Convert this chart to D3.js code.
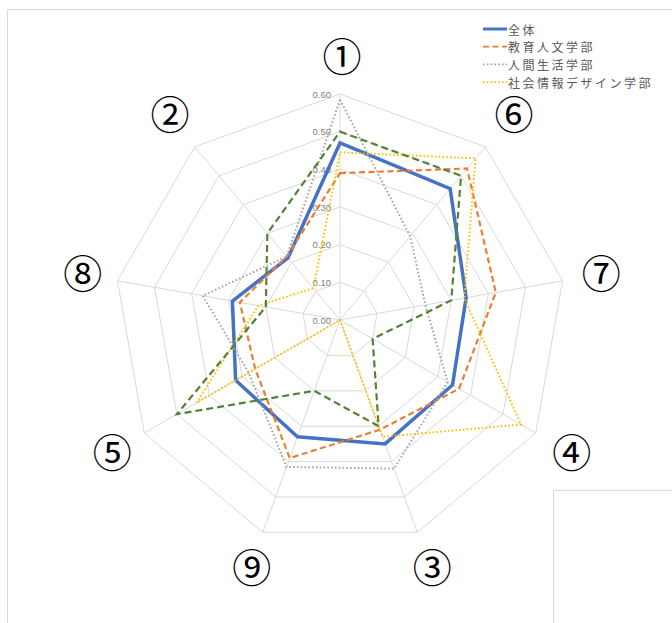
<!DOCTYPE html>
<html>
<head>
<meta charset="utf-8">
<script src="https://cdn.jsdelivr.net/npm/d3@7"></script>
<style>
  body { margin: 0; background: #fff; }
  svg { display: block; font-family: "Noto Sans CJK JP", "Noto Sans", sans-serif; }
</style>
</head>
<body>
<div id="viz"></div>
<script>
// axis order clockwise from the top
const categories = ['①', '⑥', '⑦', '④', '③', '⑨', '⑤', '⑧', '②'];
const tickValues = [0, 0.1, 0.2, 0.3, 0.4, 0.5, 0.6];

const seriesNames = ['全体', '教育人文学部', '人間生活学部', '社会情報デザイン学部', ''];
const zentai = [0.47, 0.455, 0.34, 0.345, 0.35, 0.33, 0.32, 0.29, 0.215];
const kyouiku = [0.39, 0.525, 0.42, 0.365, 0.31, 0.39, 0.26, 0.27, 0.22];
const ningen = [0.585, 0.29, 0.23, 0.33, 0.42, 0.415, 0.28, 0.37, 0.22];
const shakai = [0.445, 0.56, 0.335, 0.555, 0.33, 0.00, 0.44, 0.22, 0.11];
const green = [0.50, 0.50, 0.30, 0.10, 0.30, 0.20, 0.50, 0.20, 0.30];

const styles = [
    { color: '#4472C4', width: 3.5, dash: null },
    { color: '#ED7D31', width: 2.2, dash: '6,3.5' },
    { color: '#A5A5A5', width: 2, dash: '1.6,2.2' },
    { color: '#FFC000', width: 2, dash: '1.6,2.2' },
    { color: '#548235', width: 2.2, dash: '7,4' }
];
const allSeries = [zentai, kyouiku, ningen, shakai, green];

const width = 672;
const height = 623;
const cx = 340;
const cy = 320;

const svg = d3.select('#viz')
              .append('svg')
              .attr('width', width)
              .attr('height', height);

svg.append('rect').attr('width', width).attr('height', height).attr('fill', '#fff');

// outer frame of the chart area
svg.append('path')
   .attr('d', 'M7.5,623 V9.5 H672')
   .attr('fill', 'none')
   .attr('stroke', '#d9d9d9');

const rScale = d3.scaleLinear().domain([0, 0.6]).range([0, 226]);
const angle = d3.scaleLinear().domain([0, categories.length]).range([0, 2 * Math.PI]);

const g = svg.append('g').attr('transform', 'translate(' + cx + ',' + cy + ')');

// grid rings
const ring = d3.lineRadial()
               .angle((d, i) => angle(i))
               .radius(d => rScale(d))
               .curve(d3.curveLinearClosed);

g.selectAll('.ring')
 .data(tickValues.slice(1))
 .enter()
 .append('path')
 .attr('class', 'ring')
 .attr('d', v => ring(categories.map(() => v)))
 .attr('fill', 'none')
 .attr('stroke', '#d9d9d9')
 .attr('stroke-width', 1);

// spokes
g.selectAll('.spoke')
 .data(categories)
 .enter()
 .append('line')
 .attr('class', 'spoke')
 .attr('x1', 0)
 .attr('y1', 0)
 .attr('x2', (d, i) => rScale(0.6) * Math.sin(angle(i)))
 .attr('y2', (d, i) => -rScale(0.6) * Math.cos(angle(i)))
 .attr('stroke', '#d9d9d9')
 .attr('stroke-width', 1);

// value labels along the top spoke
const yScale = d3.scaleLinear().domain([0, 0.6]).range([0, -226]);
const yAxis = d3.axisLeft(yScale).tickValues(tickValues).tickSize(0).tickPadding(9).tickFormat(d3.format('.2f'));
g.append('g')
 .call(yAxis)
 .call(a => a.select('.domain').remove())
 .selectAll('text')
 .attr('fill', '#7f7f7f')
 .style('font-family', '"Liberation Sans", Arial, sans-serif')
 .style('font-size', '9.5px');

// category labels: box of half size 15 sitting 22px outside the outer ring
const labelPos = i => {
    const a = angle(i);
    const ux = Math.sin(a), uy = -Math.cos(a);
    const r = rScale(0.6) + 22 + 15 / Math.max(Math.abs(ux), Math.abs(uy));
    return [r * ux + 2, r * uy - 3];
};
g.selectAll('.cat')
 .data(categories)
 .enter()
 .append('text')
 .attr('class', 'cat')
 .attr('x', (d, i) => labelPos(i)[0])
 .attr('y', (d, i) => labelPos(i)[1])
 .attr('text-anchor', 'middle')
 .attr('dominant-baseline', 'central')
 .attr('fill', '#000')
 .style('font-size', '39px')
 .text(d => d);

// series
const line = d3.lineRadial()
               .angle((d, i) => angle(i))
               .radius(d => rScale(d))
               .curve(d3.curveLinearClosed);

allSeries.forEach((s, k) => {
    g.append('path')
     .attr('d', line(s))
     .attr('fill', 'none')
     .attr('stroke', styles[k].color)
     .attr('stroke-width', styles[k].width)
     .attr('stroke-dasharray', styles[k].dash)
     .attr('stroke-linejoin', 'miter');
});

// legend
const legend = svg.append('g').attr('transform', 'translate(483, 29)');
seriesNames.slice(0, 4).forEach((name, k) => {
    legend.append('line')
          .attr('x1', 0)
          .attr('x2', 24)
          .attr('y1', k * 17.7)
          .attr('y2', k * 17.7)
          .attr('stroke', styles[k].color)
          .attr('stroke-width', k === 0 ? 3 : 1.8)
          .attr('stroke-dasharray', styles[k].dash);
    legend.append('text')
          .attr('x', 25)
          .attr('y', k * 17.7)
          .attr('dominant-baseline', 'central')
          .attr('fill', '#595959')
          .style('font-size', '12px')
          .style('letter-spacing', '2.5px')
          .text(name);
});

// corner of a neighbouring box
svg.append('path')
   .attr('d', 'M553.5,623 V490.5 H672')
   .attr('fill', '#fff')
   .attr('stroke', '#d9d9d9');
</script>
</body>
</html>
